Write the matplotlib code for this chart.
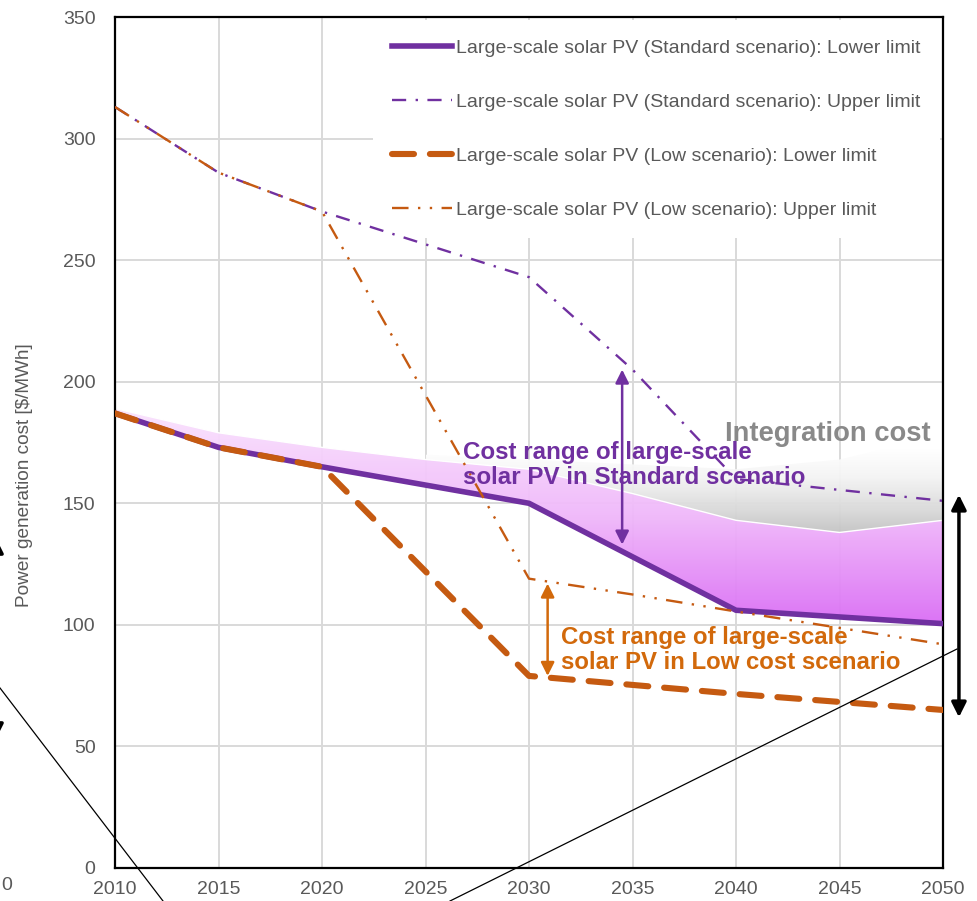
import numpy as np
import matplotlib
matplotlib.use("Agg")
import matplotlib.pyplot as plt
from matplotlib.colors import LinearSegmentedColormap
from matplotlib.lines import Line2D

plt.rcParams['font.family'] = ['Liberation Sans', 'DejaVu Sans']

# data
years = [2010, 2015, 2020, 2030, 2035, 2040, 2050]
std_lower = [187, 173, 165, 150, 128, 106, 100.5]
std_upper = [313, 286, 270, 243, 205, 160, 151]
low_lower = [187, 173, 165, 79, 75.3, 71.6, 65]
low_upper = [313, 286, 270, 119, 112.5, 105.5, 92]

band_years = [2010, 2015, 2020, 2025, 2030, 2035, 2040, 2045, 2050]
band_top = [189, 179, 173, 168, 164, 154, 143, 138, 143]

integ_years = [2025, 2030, 2035, 2040, 2045, 2050]
integ_top = [170, 168, 166, 164, 168, 178]

labels = ['Large-scale solar PV (Standard scenario): Lower limit',
          'Large-scale solar PV (Standard scenario): Upper limit',
          'Large-scale solar PV (Low scenario): Lower limit',
          'Large-scale solar PV (Low scenario): Upper limit']

purple = '#7030a0'
orange = '#c55a11'
orange_txt = '#d2690b'
grey_txt = '#595959'

W, H = 978, 901
fig = plt.figure(figsize=(W / 100, H / 100), dpi=100)
ax = fig.add_axes([115 / W, 1 - 868 / H, (943 - 115) / W, (868 - 17) / H])


def gradient_fill(x, lo, hi, colors, ylo, yhi, alpha=1.0):
    poly = ax.fill_between(x, lo, hi, color='none', lw=0)
    path = poly.get_paths()[0]
    cmap = LinearSegmentedColormap.from_list('g', colors)
    grad = np.linspace(0, 1, 256).reshape(-1, 1)
    im = ax.imshow(grad, extent=[min(x), max(x), ylo, yhi], origin='lower',
                   aspect='auto', cmap=cmap, alpha=alpha, zorder=1.5,
                   interpolation='bilinear')
    im.set_clip_path(path, transform=ax.transData)


# purple cost band and grey integration cost
band_lo = np.interp(band_years, years, std_lower)
gradient_fill(band_years, band_lo, band_top, ['#da6cf5', '#f0b8fa', '#fae4fd'],
              100, 190, 0.95)
integ_lo = np.interp(integ_years, band_years, band_top)
gradient_fill(integ_years, integ_lo, integ_top,
              ['#c2c2c2', '#dcdcdc', '#f4f4f4', '#ffffff'], 137, 172, 0.95)
ax.plot(band_years, band_top, color='white', lw=1.0, zorder=1.6)

ax.plot(years, std_lower, color=purple, lw=4.0, zorder=3, label=labels[0])
ax.plot(years, std_upper, color=purple, lw=1.7, ls=(0, (6, 4, 1, 4)),
        zorder=3, label=labels[1])
ax.plot(years, low_lower, color=orange, lw=4.4, ls=(0, (3.6, 2.6)),
        dash_capstyle='round', zorder=3, label=labels[2])
ax.plot(years, low_upper, color=orange, lw=1.7, ls=(0, (7, 4, 1, 4, 1, 4)),
        zorder=3, label=labels[3])

ax.set_xlim(2010, 2050)
ax.set_ylim(0, 350)
ax.set_xticks(range(2010, 2051, 5))
ax.set_yticks(range(0, 351, 50))
ax.grid(True, color='#d9d9d9', lw=1.4)
ax.set_axisbelow(True)
ax.tick_params(length=0, labelsize=14, labelcolor=grey_txt)
ax.tick_params(axis='y', pad=14)
ax.tick_params(axis='x', pad=9)
for s in ax.spines.values():
    s.set_linewidth(1.6)
    s.set_color('black')
ax.set_ylabel('Power generation cost [$/MWh]', fontsize=13.7, color=grey_txt)
ax.yaxis.set_label_coords(-0.099, 0.462)

leg = ax.legend(loc='upper right', bbox_to_anchor=(1.0, 1.0), fontsize=14,
                frameon=True, facecolor='white', edgecolor='none', framealpha=1,
                handlelength=3.1, handletextpad=0.2, labelspacing=1.87,
                borderpad=1.0, borderaxespad=0.15)
for t in leg.get_texts():
    t.set_color(grey_txt)
# box hides the grid but the data lines run over it
leg.set_zorder(2.5)

# annotations
ax.text(2026.8, 165.6, 'Cost range of large-scale\nsolar PV in Standard scenario',
        color=purple, fontsize=17.4, fontweight='bold', ha='left', va='center',
        linespacing=1.12, zorder=4)
ax.text(2031.55, 89.7, 'Cost range of large-scale\nsolar PV in Low cost scenario',
        color=orange_txt, fontsize=17.3, fontweight='bold', ha='left', va='center',
        linespacing=1.12, zorder=4)
ax.text(2039.45, 178.5, 'Integration cost', color='#898989', fontsize=19.7,
        fontweight='bold', ha='left', va='center', zorder=4)

ax.annotate('', xy=(2034.5, 205), xytext=(2034.5, 133),
            arrowprops=dict(arrowstyle='<|-|>', color=purple, lw=1.8,
                            mutation_scale=20, shrinkA=0, shrinkB=0), zorder=4)
ax.annotate('', xy=(2030.9, 117), xytext=(2030.9, 79),
            arrowprops=dict(arrowstyle='<|-|>', color=orange_txt, lw=1.8,
                            mutation_scale=20, shrinkA=0, shrinkB=0), zorder=4)
ax.annotate('', xy=(2050.77, 153.5), xytext=(2050.77, 62),
            arrowprops=dict(arrowstyle='<|-|>', color='black', lw=2.5,
                            mutation_scale=22, shrinkA=0, shrinkB=0),
            annotation_clip=False, zorder=4)

# pieces of the surrounding figure that fall inside the crop
fig.add_artist(Line2D([0 / W, 163 / W], [1 - 688 / H, 1 - 901 / H],
                      transform=fig.transFigure, color='black', lw=0.9))
fig.add_artist(Line2D([450 / W, 957 / W], [1 - 901 / H, 1 - 649 / H],
                      transform=fig.transFigure, color='black', lw=0.9))
ax.annotate('', xy=(-4 / W, 1 - 538 / H), xytext=(-4 / W, 1 - 739 / H),
            xycoords='figure fraction', textcoords='figure fraction',
            arrowprops=dict(arrowstyle='<|-|>', color='black', lw=2.5,
                            mutation_scale=22, shrinkA=0, shrinkB=0),
            annotation_clip=False)
fig.text(1 / W, 1 - 886 / H, '0', ha='left', va='center', fontsize=14,
         color=grey_txt)

fig.savefig('out.png', dpi=100)
